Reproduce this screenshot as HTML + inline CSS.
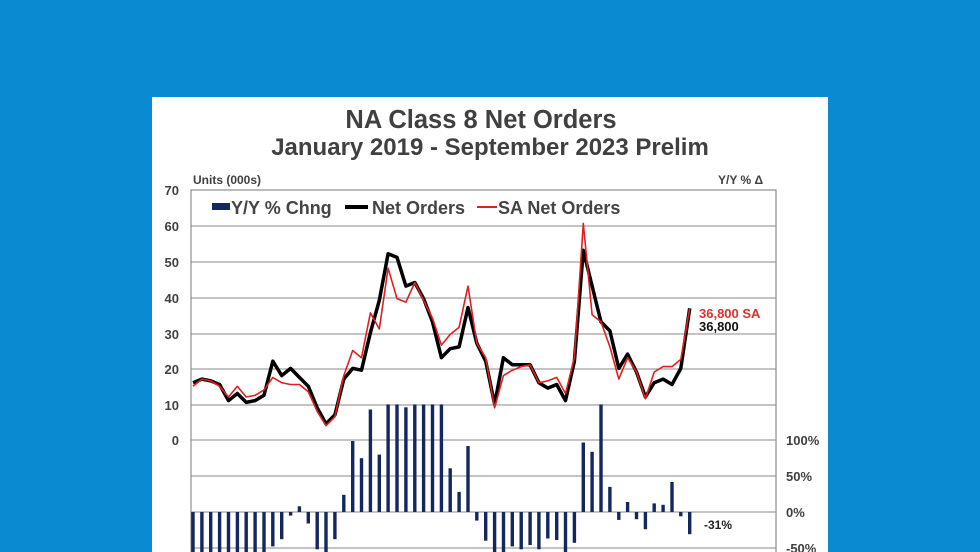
<!DOCTYPE html>
<html><head><meta charset="utf-8"><style>
html,body{margin:0;padding:0;width:980px;height:552px;overflow:hidden;background:#0a8ad0;}
#p{position:absolute;left:152px;top:97px;width:676px;height:455px;background:#fff;}
svg{position:absolute;left:0;top:0;}
text{font-family:"Liberation Sans",Arial,sans-serif;font-weight:bold;}
</style></head><body>
<div id="p"></div>
<svg id="s" width="980" height="552" viewBox="0 0 980 552"></svg>
<script>
var s=document.getElementById('s'),h='';
h+='<text x="481" y="128" text-anchor="middle" font-size="25.5" fill="#404040">NA Class 8 Net Orders</text>';
h+='<text x="490" y="155" text-anchor="middle" font-size="24" fill="#404040">January 2019 - September 2023 Prelim</text>';
h+='<text x="193" y="184" font-size="12" fill="#404040">Units (000s)</text>';
h+='<text x="718" y="184" font-size="12" fill="#404040">Y/Y % Δ</text>';
h+='<rect x="191" y="190" width="585" height="370" fill="none" stroke="#777" stroke-width="1"/>';
var gl=[226,262,298,334,369,405,440,476,512,548];
gl.forEach(function(y){h+='<line x1="191" x2="776" y1="'+y+'" y2="'+y+'" stroke="#888" stroke-width="1"/>';});
var yl=['70','60','50','40','30','20','10','0'],yy=[190,226,262,298,334,369,405,440];
for(var i=0;i<8;i++)h+='<text x="179" y="'+(yy[i]+5)+'" text-anchor="end" font-size="13" fill="#404040">'+yl[i]+'</text>';
var rl=['100%','50%','0%','-50%'],ry=[440,476,512,548];
for(i=0;i<4;i++)h+='<text x="786" y="'+(ry[i]+5)+'" font-size="13" fill="#404040">'+rl[i]+'</text>';
var b=[-70,-70,-70,-70,-70,-70,-70,-70,-70,-48,-38,-5,8,-16,-52,-70,-38,24,99,75,143,80,150,150,146,150,150,150,150,61,28,92,-12,-40,-70,-70,-48,-52,-46,-52,-37,-39,-70,-43,97,84,150,35,-11,14,-10,-24,12,10,42,-6,-31];
for(i=0;i<b.length;i++){var x=193+i*8.87-1.7,v=b[i],y0=512,y1=512-v*0.717;
h+='<rect x="'+x.toFixed(1)+'" y="'+Math.min(y0,y1).toFixed(1)+'" width="3.4" height="'+Math.abs(y1-y0).toFixed(1)+'" fill="#14275e"/>';}
h+='<text x="704" y="529" font-size="12" fill="#222">-31%</text>';
var k=[16,17,16.5,15.5,11,13,10.5,11,12.5,22,18,20,17.5,15,9,4.5,7,17,20,19.5,30,39,52,51,43,44,39.5,33,23,25.5,26,37,27,22,10,23,21,21,21,16,14.5,15.5,11,22,53,43,33,30.5,20,24,19,12,16,17,15.5,20,36.8];
var r=[15,17,16.5,15,12,15,12,12.5,14,17.5,16,15.5,15.5,13.5,8,4,6.5,18,25,23,35.5,31,48,39.5,38.5,44,39,34,26.5,29.5,31.5,43,27,23,9,18,19.5,20.5,21,16,16.5,17.5,13,23,60.5,35,33,26,17,23,19,11.5,19,20.5,20.5,22.5,36.8];
function pl(a,c,w){var p=a.map(function(v,i){return (193+i*8.87).toFixed(1)+','+(440-v*3.58).toFixed(1)}).join(' ');
return '<polyline points="'+p+'" fill="none" stroke="'+c+'" stroke-width="'+w+'" stroke-linejoin="round"/>';}
h+=pl(k,'#000',3.5)+pl(r,'#e02020',1.6);
h+='<text x="699" y="318" font-size="13" fill="#e03030">36,800 SA</text>';
h+='<text x="699" y="331" font-size="13" fill="#111">36,800</text>';
h+='<rect x="212" y="203" width="18" height="7" fill="#14275e"/>';
h+='<text x="231" y="214" font-size="18" fill="#444">Y/Y % Chng</text>';
h+='<line x1="345" x2="368" y1="207" y2="207" stroke="#000" stroke-width="4"/>';
h+='<text x="372" y="214" font-size="18" fill="#444">Net Orders</text>';
h+='<line x1="477" x2="497" y1="207" y2="207" stroke="#e02020" stroke-width="2"/>';
h+='<text x="498" y="214" font-size="18" fill="#444">SA Net Orders</text>';
s.innerHTML=h;
</script>
</body></html>
